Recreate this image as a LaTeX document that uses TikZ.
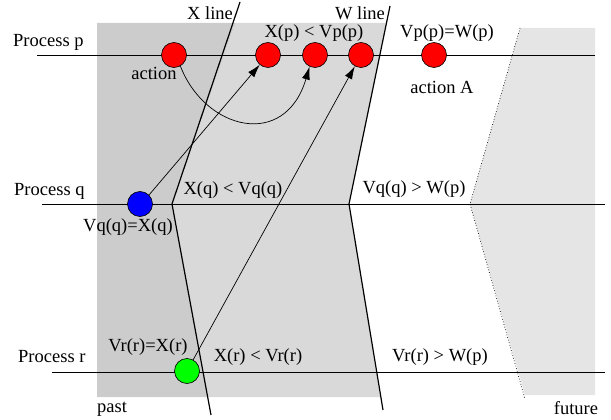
\documentclass[tikz,border=0pt]{standalone}
\usepackage{fontspec}
\setmainfont{Liberation Serif}
\usetikzlibrary{arrows.meta,calc,intersections}
\definecolor{darkg}{HTML}{CCCCCC}
\definecolor{midg}{HTML}{D9D9D9}
\definecolor{lightg}{HTML}{E5E5E5}
\begin{document}
\begin{tikzpicture}[x=1pt,y=-1pt,
  proc/.style={line width=0.8pt},
  cut/.style={line width=1.2pt},
  ev/.style={circle,draw,line width=0.6pt,minimum size=25pt,inner sep=0pt},
  lbl/.style={font=\fontsize{18.5}{20}\selectfont,inner sep=0pt},
  arr/.style={line width=0.7pt,-{Latex[length=13pt,width=8pt]}}]
\useasboundingbox (0,0) rectangle (611,420);
% backgrounds
\fill[midg] (235.3,23) -- (172,204) -- (208.3,397) -- (380.2,397) -- (349,204) -- (386.5,23) -- cycle;
\fill[lightg] (520,28) -- (595,28) -- (595,395) -- (525,395) -- (470,204) -- cycle;
\fill[darkg] (97,23) -- (235.3,23) -- (172,204) -- (208.3,397) -- (97,397) -- cycle;
% dotted border of future
\coordinate (f1) at (520,28);
\coordinate (f2) at (470,204);
\coordinate (f3) at (525,399);
\draw[dotted,line width=0.7pt] (f1) -- (f2) -- (f3);
% process lines
\coordinate (pL) at (37,55); \coordinate (pR) at (595,55);
\coordinate (qL) at (42,204); \coordinate (qR) at (605,204);
\coordinate (rL) at (52,372); \coordinate (rR) at (605,372);
\draw[proc] (pL) -- (pR);
\draw[proc] (qL) -- (qR);
\draw[proc] (rL) -- (rR);
% cut lines
\coordinate (x1) at (240,2); \coordinate (x2) at (172,204); \coordinate (x3) at (211,415);
\coordinate (w1) at (390,6); \coordinate (w2) at (349,204); \coordinate (w3) at (383,410);
\draw[cut] (x1) -- (x2) -- (x3);
\draw[cut] (w1) -- (w2) -- (w3);
% events
\node[ev,fill=red] (act) at (174,55) {};
\node[ev,fill=red] (p1) at (268,55) {};
\node[ev,fill=red] (p2) at (315,55) {};
\node[ev,fill=red] (p3) at (361,55) {};
\node[ev,fill=red] (pA) at (434,55) {};
\node[ev,fill=blue] (q) at (140,204) {};
\node[ev,fill=green] (r) at (187,371) {};
% arrows
\draw[arr] (act.-60) .. controls (205,130) and (285,150) .. (p2.-115);
\draw[arr] (q.45) -- (p1);
\draw[arr] (r) -- (p3);
% labels
\node[lbl,anchor=west] (lp) at (13,42) {Process p};
\node[lbl,anchor=west] (lq) at (14,191) {Process q};
\node[lbl,anchor=west] (lr) at (18,357) {Process r};
\node[lbl] (lx) at (210,13) {X line};
\node[lbl] (lw) at (360,13) {W line};
\node[lbl] (l1) at (314,33) {X(p) < Vp(p)};
\node[lbl] (l2) at (447,33) {Vp(p)=W(p)};
\node[lbl] (l3) at (154,73) {action};
\node[lbl] (l4) at (442,87) {action A};
\node[lbl] (l5) at (233,190) {X(q) < Vq(q)};
\node[lbl] (l6) at (414,189) {Vq(q) > W(p)};
\node[lbl] (l7) at (128,227) {Vq(q)=X(q)};
\node[lbl] (l8) at (148,347) {Vr(r)=X(r)};
\node[lbl] (l9) at (258,357) {X(r) < Vr(r)};
\node[lbl] (l10) at (440,357) {Vr(r) > W(p)};
\node[lbl] (l11) at (112,409) {past};
\node[lbl] (l12) at (576,408) {future};
\end{tikzpicture}
\end{document}
